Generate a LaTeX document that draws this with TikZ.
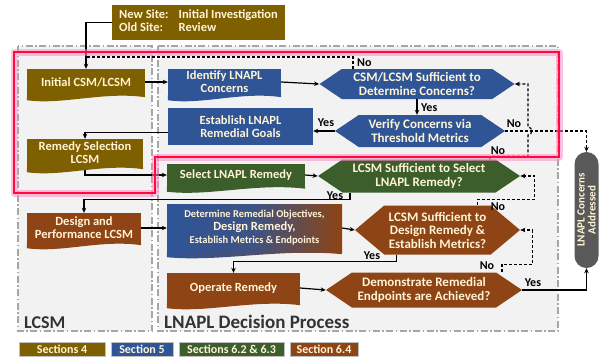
\documentclass[tikz,border=0pt]{standalone}
\usepackage{fontspec}
\setmainfont{Carlito}
\usetikzlibrary{arrows.meta,shapes.symbols,calc}

\definecolor{colive}{HTML}{7F6000}
\definecolor{cblue}{HTML}{2F5597}
\definecolor{cgreen}{HTML}{3B5E2B}
\definecolor{cbrown}{HTML}{8E4414}
\definecolor{cgray}{HTML}{595959}
\definecolor{ctext}{HTML}{FFF4D6}
\definecolor{cregion}{HTML}{F2F2F2}
\definecolor{cborder}{HTML}{A6A6A6}
\definecolor{cred}{HTML}{FF0A3C}
\definecolor{cglow}{HTML}{FF8CC8}

\pgfdeclarelayer{back}
\pgfdeclarelayer{lines}
\pgfsetlayers{back,lines,main}

\tikzset{
  box/.style={draw=none, text=ctext, align=center, inner sep=1pt,
    font=\bfseries\fontsize{12.5}{13}\selectfont},
  hexa/.style={box, shape=signal, signal to=west and east, signal pointer angle=#1,
    font=\bfseries\fontsize{13}{13.5}\selectfont},
  hexa/.default=68,
  conn/.style={black, line width=1.2pt, -{Stealth[length=5pt,width=4.5pt]}},
  dconn/.style={conn, dash pattern=on 3pt off 2pt},
  lbl/.style={font=\bfseries\fontsize{12}{12}\selectfont, inner sep=0pt},
  region/.style={draw=cborder, fill=cregion, line width=1.3pt,
    dash pattern=on 7pt off 2.5pt on 1.5pt off 2.5pt},
  legend/.style={box, font=\bfseries\fontsize{12}{12}\selectfont,
    minimum height=14, inner sep=0pt, draw=black!25, line width=0.6pt},
}

%% wavy bottom of a document box: name, fill options
\newcommand{\wavebot}[2]{%
  \path[#2] (#1.south west) -- ($(#1.south west)+(0,5)$)
    .. controls ($(#1.south west)!0.3!(#1.south east)+(0,10)$)
    and ($(#1.south west)!0.65!(#1.south east)+(0,-4)$)
    .. ($(#1.south east)+(0,2)$) -- (#1.south east) -- cycle;}

\begin{document}
\begin{tikzpicture}[x=1pt,y=-1pt]
\useasboundingbox (0,0) rectangle (599,357);

%% regions
\begin{pgfonlayer}{back}
\draw[region] (18,46) rectangle (152,331);
\draw[region] (158,46) rectangle (558,331);
\end{pgfonlayer}
\node[anchor=south west, inner sep=0pt, font=\bfseries\fontsize{18}{18}\selectfont, text=black!80] (lcsmlbl) at (24,329) {LCSM};
\node[anchor=south west, inner sep=0pt, font=\bfseries\fontsize{19}{19}\selectfont, text=black!80] (proclbl) at (164,329) {LNAPL Decision Process};

%% top box
\node[box, fill=colive, minimum width=173, minimum height=35] (topbox) at (198.5,22.5)
  {\renewcommand{\arraystretch}{0.95}\begin{tabular}{@{}l@{\hspace{10pt}}l@{}}New Site: & Initial Investigation\\ Old Site: & Review\end{tabular}};

%% LCSM column
\node[box, fill=colive, minimum width=118, minimum height=26] (initcsm) at (86,82) {Initial CSM/LCSM};
\wavebot{initcsm}{fill=colive}
\node[box, fill=colive, minimum width=116, minimum height=28] (remsel) at (85,153) {Remedy Selection\\LCSM};
\wavebot{remsel}{fill=colive}
\node[box, fill=cbrown, minimum width=114, minimum height=30] (design) at (84,228) {Design and\\Performance LCSM};
\wavebot{design}{fill=cbrown}

%% decision process, left boxes
\node[box, fill=cblue, minimum width=113, minimum height=26] (identify) at (224.5,82) {Identify LNAPL\\Concerns};
\wavebot{identify}{fill=cblue}
\node[box, fill=cblue, minimum width=145, minimum height=37] (establish) at (240.5,126.5) {Establish LNAPL\\Remedial Goals};
\node[box, fill=cgreen, minimum width=138, minimum height=23] (select) at (236,175) {Select LNAPL Remedy};
\wavebot{select}{fill=cgreen}
\node[box, left color=cblue, right color=cbrown, middle color=cblue!85!cbrown, minimum width=175, minimum height=48] (determine) at (254.5,228)
  {{\fontsize{10.5}{12}\selectfont Determine Remedial Objectives,}\\ Design Remedy,\\{\fontsize{10.5}{12}\selectfont Establish Metrics \& Endpoints}};
\wavebot{determine}{left color=cblue, right color=cbrown, middle color=cblue!70!cbrown}
\node[box, fill=cbrown, minimum width=133, minimum height=30] (operate) at (233.5,288) {Operate Remedy};
\wavebot{operate}{fill=cbrown}

%% decision process, hexagons
\node[hexa, fill=cblue, minimum width=195, minimum height=30] (hexconc) at (417,84) {CSM/LCSM Sufficient to\\Determine Concerns?};
\node[hexa, fill=cblue, minimum width=170, minimum height=32] (hexverify) at (420,131) {Verify Concerns via\\Threshold Metrics};
\node[hexa, fill=cgreen, minimum width=202, minimum height=33] (hexselect) at (419,176) {LCSM Sufficient to Select\\LNAPL Remedy?};
\node[hexa=80, fill=cbrown, minimum width=165, minimum height=49] (hexdesign) at (437.5,230) {LCSM Sufficient to\\Design Remedy \&\\Establish Metrics?};
\node[hexa, fill=cbrown, minimum width=196, minimum height=35] (hexdemo) at (424,290) {Demonstrate Remedial\\Endpoints are Achieved?};

%% end box
\node[box, fill=cgray, rounded corners=12pt, minimum width=116, minimum height=24, inner sep=0.5pt, rotate=90,
  font=\bfseries\fontsize{11}{11}\selectfont] (gbox) at (586.5,210) {LNAPL Concerns\\Addressed};

%% connectors
\coordinate (cj) at (86,57);
\coordinate (jmp) at (528,131);
\begin{pgfonlayer}{lines}
\draw[conn] (topbox.west) -| (initcsm.north);
\draw[conn] (initcsm.east) -- (identify.west);
\draw[conn] (identify.east) -- (hexconc.west);
\draw[conn] (hexconc.south) -- (hexconc.south |- hexverify.north);
\draw[conn] (hexverify.west) -- (hexverify.west -| establish.east);
\draw[conn] ($(establish.west)+(0,6)$) -| (remsel.north);
\draw[conn] (remsel.south) |- (select.west);
\draw[conn] (select.east) -- (hexselect.west);
\draw[conn] ($(hexselect.south)+(-69,0)$) |- ($(design.north)+(0,-13)$) -- (design.north);
\draw[conn] (design.east) -- (determine.west);
\draw[conn] (determine.east) -- (hexdesign.west);
\draw[conn] ($(hexdesign.south)+(-41,0)$) |- ($(operate.north)+(0,-11)$) -- (operate.north);
\draw[conn] (operate.east) -- (hexdemo.west);
\draw[conn] (hexdemo.east) -| (gbox.west);
%% No branches
\draw[dconn, -] ($(hexconc.north)+(-64,0)$) |- (cj);
\draw[dconn] (hexverify.east) -| (gbox.east);
\draw[dconn] ($(hexselect.north)+(71,0)$) -- ++(0,-3) -| ($(jmp)+(0,4)$)
  .. controls ($(jmp)+(5,4)$) and ($(jmp)+(5,-4)$) .. ($(jmp)+(0,-4)$) |- (hexconc.east);
\draw[dconn] ($(hexdesign.north)+(40,0)$) -- ++(0,-6) -| ($(hexselect.east)+(14,0)$) -- (hexselect.east);
\draw[dconn] ($(hexdemo.north)+(78,0)$) -- ++(0,-8) -| ($(hexdesign.east)+(12,0)$) -- (hexdesign.east);
\end{pgfonlayer}

%% labels
\node[lbl, anchor=west] (n1) at (357,63) {No};
\node[lbl, anchor=west] (y1) at (421,108) {Yes};
\node[lbl] (y2) at (326,123) {Yes};
\node[lbl] (n2) at (514,124) {No};
\node[lbl] (n3) at (498,151) {No};
\node[lbl] (y3) at (335,196) {Yes};
\node[lbl] (n4) at (498,207) {No};
\node[lbl] (y4) at (372,256) {Yes};
\node[lbl] (n5) at (487,266) {No};
\node[lbl] (y5) at (533,283) {Yes};

%% legend
\node[legend, fill=colive, minimum width=86] (leg4) at (62,349.5) {Sections 4};
\node[legend, fill=cblue, minimum width=62] (leg5) at (142,349.5) {Section 5};
\node[legend, fill=cgreen, minimum width=105] (leg62) at (231.5,349.5) {Sections 6.2 \& 6.3};
\node[legend, fill=cbrown, minimum width=68] (leg64) at (324,349.5) {Section 6.4};

%% highlight
\draw[cglow, line width=7pt, opacity=0.55, line join=round] (14,52) -- (559,52) -- (559,157) -- (155,157) -- (155,193) -- (14,193) -- cycle;
\draw[cred, line width=2.2pt] (14,52) -- (559,52) -- (559,157) -- (155,157) -- (155,193) -- (14,193) -- cycle;

\end{tikzpicture}
\end{document}
